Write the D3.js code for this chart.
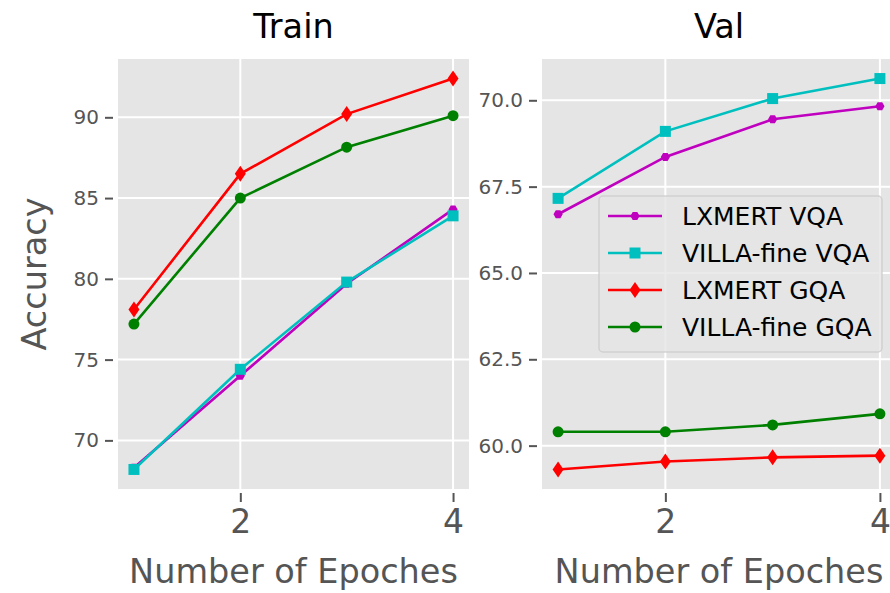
<!DOCTYPE html>
<html><head><meta charset="utf-8">
<script src="https://cdn.jsdelivr.net/npm/d3@7"></script>
<style>body{margin:0;background:#fff}svg{display:block;font-family:"DejaVu Sans",sans-serif}</style>
</head><body><svg id="c" width="890" height="593"></svg>
<script>
const epochs = [1, 2, 3, 4];
const seriesNames = ["LXMERT VQA", "VILLA-fine VQA", "LXMERT GQA", "VILLA-fine GQA"];
const seriesColors = ["#BF00BF", "#00BFBF", "#FF0000", "#008000"];
const seriesMarkers = ["hex", "square", "thindiamond", "circle"];
const trainLxmertVqa = [68.3, 74.0, 79.7, 84.3];
const trainVillaVqa = [68.2, 74.4, 79.8, 83.9];
const trainLxmertGqa = [78.1, 86.5, 90.2, 92.4];
const trainVillaGqa = [77.2, 85.0, 88.15, 90.1];
const valLxmertVqa = [66.7, 68.36, 69.45, 69.83];
const valVillaVqa = [67.16, 69.1, 70.05, 70.63];
const valLxmertGqa = [59.31, 59.54, 59.66, 59.71];
const valVillaGqa = [60.4, 60.4, 60.6, 60.92];
const xTicks = [2, 4];
const trainYTicks = [70, 75, 80, 85, 90];
const valYTicks = [60.0, 62.5, 65.0, 67.5, 70.0];
const titles = ["Train", "Val"];
const xLabel = "Number of Epoches";
const yLabel = "Accuracy";

const svg = d3.select("#c");
const top_ = 59, bottom = 489;

function markerPath(type) {
  if (type === "square") return d3.symbol(d3.symbolSquare, 121)();
  if (type === "circle") return d3.symbol(d3.symbolCircle, 95)();
  if (type === "hex") {
    const r = 4.6; const pts = d3.range(6).map(i => [r*Math.cos(Math.PI/3*i), r*Math.sin(Math.PI/3*i)]);
    return "M" + pts.map(p => p.join(",")).join("L") + "Z";
  }
  return "M0,-8L5.5,0L0,8L-5.5,0Z";
}

function panel(x0, x1, series, yTicks, fmt, title, showLegend, showYLabel) {
  const all = series.flat();
  const lo = d3.min(all), hi = d3.max(all), pad = (hi - lo) * 0.05;
  const x = d3.scaleLinear().domain([0.85, 4.15]).range([x0, x1]);
  const y = d3.scaleLinear().domain([lo - pad, hi + pad]).range([bottom, top_]);
  const g = svg.append("g");
  g.append("rect").attr("x", x0).attr("y", top_).attr("width", x1 - x0).attr("height", bottom - top_).attr("fill", "#E5E5E5");
  // grid
  g.selectAll(".gx").data(xTicks).join("line").attr("x1", d => x(d)).attr("x2", d => x(d)).attr("y1", top_).attr("y2", bottom).attr("stroke", "#fff").attr("stroke-width", 2);
  g.selectAll(".gy").data(yTicks).join("line").attr("y1", d => y(d)).attr("y2", d => y(d)).attr("x1", x0).attr("x2", x1).attr("stroke", "#fff").attr("stroke-width", 2);
  // axes
  const ya = d3.axisLeft(y).tickValues(yTicks).tickFormat(fmt).tickSize(8).tickPadding(6);
  const yg = g.append("g").attr("transform", `translate(${x0 - 5},0)`).call(ya);
  yg.select(".domain").remove();
  yg.selectAll("line").attr("stroke", "#555").attr("stroke-width", 2);
  yg.selectAll("text").attr("fill", "#555").style("font-size", "20px").style("font-family", "DejaVu Sans");
  const xa = d3.axisBottom(x).tickValues(xTicks).tickFormat(d3.format("d")).tickSize(9).tickPadding(8);
  const xg = g.append("g").attr("transform", `translate(0,${bottom + 4})`).call(xa);
  xg.select(".domain").remove();
  xg.selectAll("line").attr("stroke", "#555").attr("stroke-width", 2);
  xg.selectAll("text").attr("fill", "#555").style("font-size", "33px").style("font-family", "DejaVu Sans");
  // labels
  g.append("text").attr("x", (x0 + x1) / 2).attr("y", 583).attr("text-anchor", "middle").attr("fill", "#555").style("font-size", "33.5px").text(xLabel);
  g.append("text").attr("x", (x0 + x1) / 2).attr("y", 38).attr("text-anchor", "middle").attr("fill", "#000").style("font-size", "33.5px").text(title);
  if (showYLabel) {
    g.append("text").attr("transform", `translate(46,${(top_ + bottom) / 2}) rotate(-90)`).attr("text-anchor", "middle").attr("fill", "#555").style("font-size", "33.5px").text(yLabel);
  }
  // lines
  const line = d3.line().x((d, i) => x(epochs[i])).y(d => y(d));
  const order = [0, 1, 2, 3];
  order.forEach(k => {
    g.append("path").datum(series[k]).attr("d", line).attr("fill", "none").attr("stroke", seriesColors[k]).attr("stroke-width", 2.6);
    g.selectAll(null).data(series[k]).join("path").attr("d", markerPath(seriesMarkers[k]))
      .attr("transform", (d, i) => `translate(${x(epochs[i])},${y(d)})`).attr("fill", seriesColors[k]);
  });
  if (showLegend) {
    const lg = g.append("g");
    lg.append("rect").attr("x", 599).attr("y", 196).attr("width", 283).attr("height", 156).attr("rx", 4)
      .attr("fill", "#E5E5E5").attr("fill-opacity", 0.8).attr("stroke", "#CCCCCC").attr("stroke-opacity", 0.8).attr("stroke-width", 1.5);
    seriesNames.forEach((n, k) => {
      const yy = 216 + k * 37;
      lg.append("line").attr("x1", 608).attr("x2", 662).attr("y1", yy).attr("y2", yy).attr("stroke", seriesColors[k]).attr("stroke-width", 2.6);
      lg.append("path").attr("d", markerPath(seriesMarkers[k])).attr("transform", `translate(635,${yy})`).attr("fill", seriesColors[k]);
      lg.append("text").attr("x", 682).attr("y", yy + 9).attr("fill", "#000").style("font-size", "25px").text(n);
    });
  }
}

panel(118, 469, [trainLxmertVqa, trainVillaVqa, trainLxmertGqa, trainVillaGqa], trainYTicks, d3.format("d"), titles[0], false, true);
panel(542, 896, [valLxmertVqa, valVillaVqa, valLxmertGqa, valVillaGqa], valYTicks, d3.format(".1f"), titles[1], true, false);
</script></body></html>
